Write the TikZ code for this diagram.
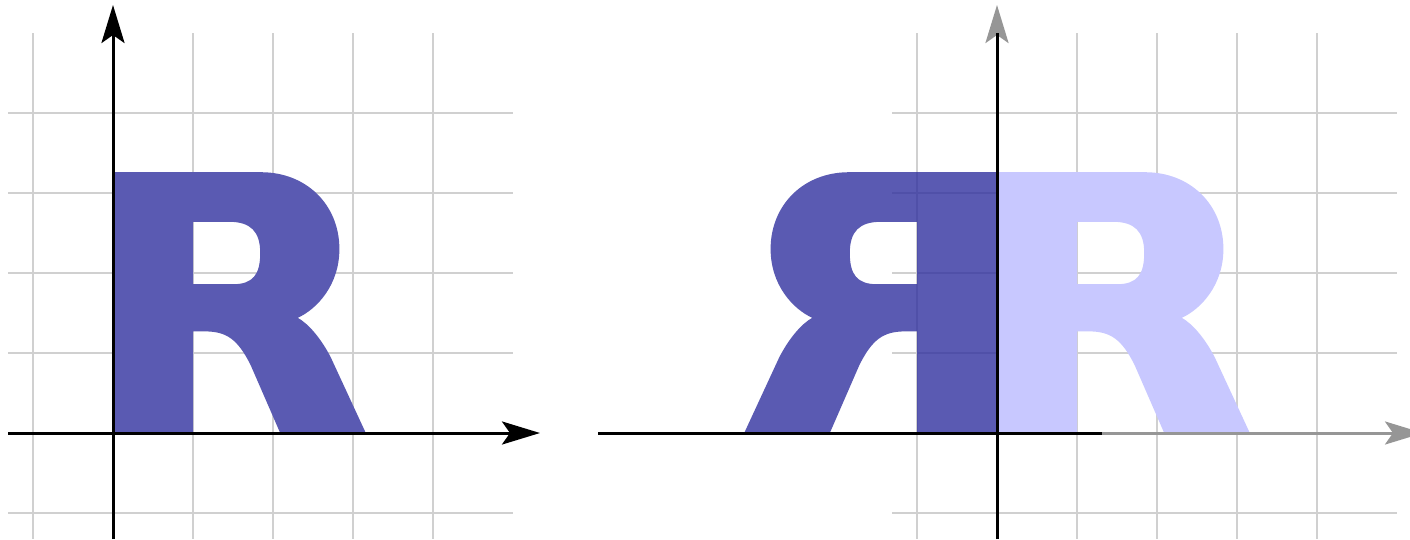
\documentclass[tikz,border=0pt]{standalone}
\usetikzlibrary{arrows.meta}
\definecolor{gridgray}{RGB}{208,208,208}
\definecolor{rdark}{RGB}{90,90,178}
\definecolor{rdarkt}{RGB}{49,49,159}
\definecolor{rlight}{RGB}{200,200,255}
\definecolor{axgray}{RGB}{150,150,150}
\def\RPath{(0,0) -- (0,3.26) -- (1.85,3.26) .. controls (2.42,3.26) and (2.83,2.85) .. (2.83,2.3) .. controls (2.83,1.85) and (2.55,1.55) .. (2.31,1.44) .. controls (2.45,1.36) and (2.6,1.18) .. (2.72,0.95) -- (3.16,0) -- (2.09,0) -- (1.72,0.85) .. controls (1.56,1.17) and (1.42,1.27) .. (1.15,1.27) -- (1,1.27) -- (1,0) -- cycle (1,1.86) -- (1.5,1.86) .. controls (1.75,1.86) and (1.84,1.98) .. (1.84,2.25) .. controls (1.84,2.52) and (1.72,2.64) .. (1.45,2.64) -- (1,2.64) -- cycle}
\tikzset{
  gridline/.style={draw=gridgray, line width=2.5pt},
  axisline/.style={line width=3pt},
  arrowed/.style={-{Stealth[length=38pt,width=23pt,inset=8pt]}},
}
\begin{document}
\begin{tikzpicture}[x=1pt,y=-1pt]
\useasboundingbox (0,0) rectangle (1410,539);
\clip (0,0) rectangle (1410,539);
\fill[white] (0,0) rectangle (1410,539);
% ---------- left panel ----------
\foreach \gx in {33,113,193,273,353,433} \draw[gridline] (\gx,33) -- (\gx,539);
\foreach \gy in {113,193,273,353,433,513} \draw[gridline] (8,\gy) -- (513,\gy);
\begin{scope}[shift={(113,433)}, x=80pt, y=80pt]
  \fill[rdark, even odd rule] \RPath;
\end{scope}
\coordinate (lxs) at (8,433);
\coordinate (lxe) at (540,433);
\coordinate (lys) at (113,539);
\coordinate (lye) at (113,5);
\draw[axisline, arrowed] (lxs) -- (lxe);
\draw[axisline, arrowed] (lys) -- (lye);
% ---------- right panel ----------
\foreach \gx in {917,997,1077,1157,1237,1317} \draw[gridline] (\gx,33) -- (\gx,539);
\foreach \gy in {113,193,273,353,433,513} \draw[gridline] (892,\gy) -- (1397,\gy);
\begin{scope}[shift={(997,433)}, x=80pt, y=80pt]
  \fill[rlight, even odd rule] \RPath;
\end{scope}
\begin{scope}[shift={(997,433)}, x=-80pt, y=80pt]
  \fill[rdarkt, fill opacity=0.8, even odd rule] \RPath;
\end{scope}
\coordinate (gxs) at (892,433);
\coordinate (gxe) at (1423,433);
\coordinate (gys) at (997,539);
\coordinate (gye) at (997,5);
\draw[axisline, arrowed, axgray] (gxs) -- (gxe);
\draw[axisline, arrowed, axgray] (gys) -- (gye);
\coordinate (bxs) at (598,433);
\coordinate (bxe) at (1102,433);
\coordinate (bye) at (997,33);
\draw[axisline] (bxs) -- (bxe);
\draw[axisline] (gys) -- (bye);
\end{tikzpicture}
\end{document}
